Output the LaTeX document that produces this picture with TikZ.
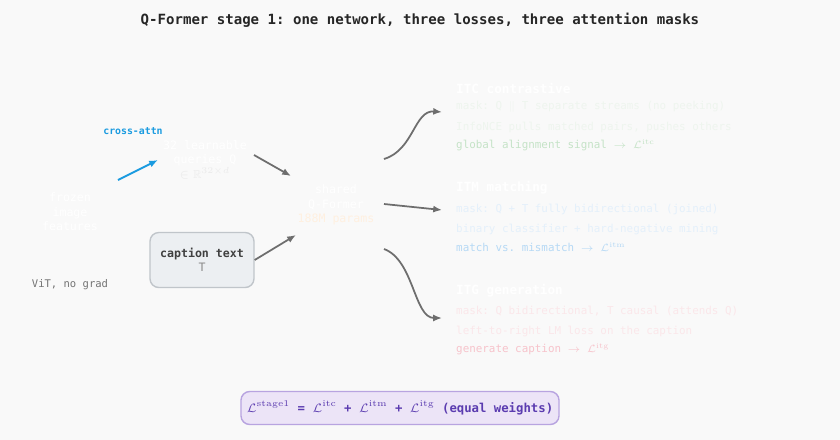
\documentclass[tikz,border=0pt]{standalone}
\usepackage{fontspec}
\setmonofont{DejaVu Sans Mono}
\usepackage{amsmath}
\usepackage{amssymb}
\definecolor{bgpaper}{HTML}{F9F9F9}
\definecolor{arrowgray}{HTML}{6E6E6E}
\definecolor{attnblue}{HTML}{1A9BE0}
\definecolor{capfill}{HTML}{ECEFF2}
\definecolor{capdraw}{HTML}{C0C5CA}
\definecolor{itcfaint}{HTML}{EEF5EE}
\definecolor{itcmid}{HTML}{C5E3C7}
\definecolor{itmfaint}{HTML}{E4F0FB}
\definecolor{itmmid}{HTML}{B6D9F5}
\definecolor{itgfaint}{HTML}{FBE7EA}
\definecolor{itgmid}{HTML}{F7C3CB}
\definecolor{lossfill}{HTML}{ECE4F7}
\definecolor{lossdraw}{HTML}{B8A4E0}
\definecolor{losstext}{HTML}{5B3CB0}
\usetikzlibrary{arrows.meta, positioning, calc}

\begin{document}
\begin{tikzpicture}[
    x=0.02cm, y=-0.02cm,
    txt/.style={font=\ttfamily\fontsize{6.6}{8.2}\selectfont, align=center},
    head/.style={font=\ttfamily\bfseries\fontsize{7.2}{9}\selectfont, anchor=west, text=white},
    line/.style={font=\ttfamily\fontsize{6.2}{8}\selectfont, anchor=west},
    arrow/.style={-{Latex[length=5pt,width=4pt]}, arrowgray, line width=1pt}
]
    \fill[bgpaper] (0,0) rectangle (840,440);

    % Title
    \node[font=\ttfamily\bfseries\fontsize{8}{10}\selectfont, text=black!85] (title) at (420,20) {Q-Former stage 1: one network, three losses, three attention masks};

    % Inputs
    \node[txt, text=white] (img) at (70,212) {frozen\\image\\features};
    \node[txt, text=black!55, font=\ttfamily\fontsize{6}{8}\selectfont] (vit) at (70,285) {ViT, no grad};
    \node[txt, text=white] (queries) at (205,160) {32 learnable\\queries Q\\{\color{black!8}$\in\mathbb{R}^{32\times d}$}};
    \node[txt, font=\ttfamily\bfseries\fontsize{5.6}{7}\selectfont, text=attnblue] (xattn) at (133,131) {cross-attn};
    \node[txt, draw=capdraw, fill=capfill, rounded corners=5pt, line width=0.8pt, minimum width=2.08cm, minimum height=1.1cm, text=black!75] (caption) at (202,260) {\textbf{caption text}\\{\color{black!45}T}};

    % Shared network
    \node[txt, text=white] (qformer) at (336,205) {shared\\Q-Former\\{\color{orange!12}188M params}};

    % Losses
    \node[head] (itc) at (450,88) {ITC contrastive};
    \node[line, text=itcfaint] (itc1) at (450,107) {mask: Q $\parallel$ T separate streams (no peeking)};
    \node[line, text=itcfaint] (itc2) at (450,127) {InfoNCE pulls matched pairs, pushes others};
    \node[line, text=itcmid] (itc3) at (450,145) {global alignment signal $\rightarrow$ $\mathcal{L}^{\mathrm{itc}}$};

    \node[head] (itm) at (450,188) {ITM matching};
    \node[line, text=itmfaint] (itm1) at (450,209) {mask: Q + T fully bidirectional (joined)};
    \node[line, text=itmfaint] (itm2) at (450,229) {binary classifier + hard-negative mining};
    \node[line, text=itmmid] (itm3) at (450,247) {match vs. mismatch $\rightarrow$ $\mathcal{L}^{\mathrm{itm}}$};

    \node[head] (itg) at (450,291) {ITG generation};
    \node[line, text=itgfaint] (itg1) at (450,311) {mask: Q bidirectional, T causal (attends Q)};
    \node[line, text=itgfaint] (itg2) at (450,331) {left-to-right LM loss on the caption};
    \node[line, text=itgmid] (itg3) at (450,349) {generate caption $\rightarrow$ $\mathcal{L}^{\mathrm{itg}}$};

    % Total loss
    \node[font=\ttfamily\bfseries\fontsize{7}{9}\selectfont, text=losstext, draw=lossdraw, fill=lossfill, rounded corners=5pt, line width=0.8pt, minimum width=6.08cm, minimum height=0.66cm] (total) at (400,408) {$\mathcal{L}^{\mathrm{stage1}}$ = $\mathcal{L}^{\mathrm{itc}}$ + $\mathcal{L}^{\mathrm{itm}}$ + $\mathcal{L}^{\mathrm{itg}}$ (equal weights)};

    % Coordinates for connectors
    \coordinate (imgout) at (118,180);
    \coordinate (qin) at (158,160);
    \coordinate (qout) at (254,155);
    \coordinate (qfin1) at (291,176);
    \coordinate (qfin2) at (296,235);
    \coordinate (qf1) at (384,159);
    \coordinate (qf2) at (384,204);
    \coordinate (qf3) at (384,249);

    % Arrows
    \draw[-{Latex[length=5pt,width=4pt]}, attnblue, line width=1.1pt] (imgout) -- (qin);
    \draw[arrow] (qout) -- (qfin1);
    \draw[arrow] (caption.east) -- (qfin2);
    \draw[arrow] (qf1) .. controls (414,150) and (414,110) .. ($(itc1.west)+(-8,5)$);
    \draw[arrow] (qf2) -- ($(itm1.west)+(-8,1)$);
    \draw[arrow] (qf3) .. controls (414,260) and (414,318) .. ($(itg1.west)+(-8,7)$);
\end{tikzpicture}
\end{document}
